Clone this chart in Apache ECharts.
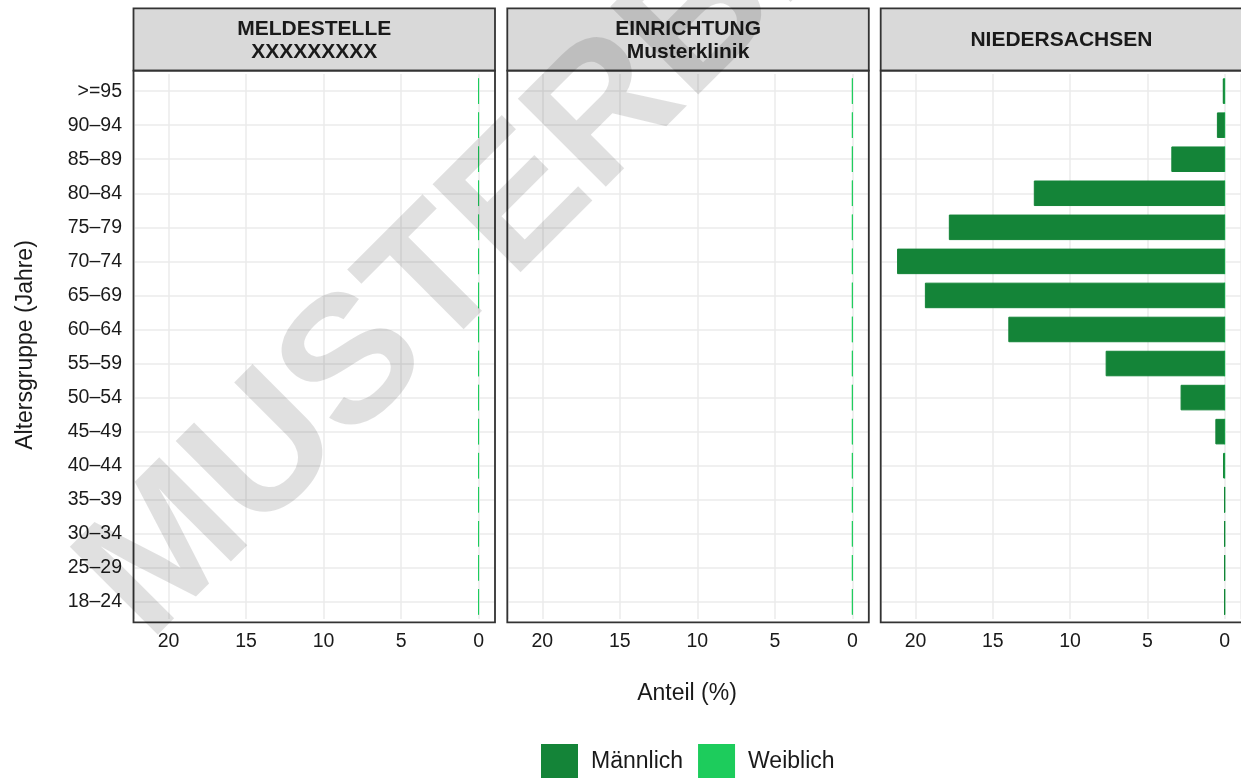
<!DOCTYPE html>
<html>
<head>
<meta charset="utf-8">
<title>Altersverteilung</title>
<script src="https://cdn.jsdelivr.net/npm/echarts@6/dist/echarts.min.js"></script>
<style>
	html, body { margin: 0; padding: 0; background: #fff; }
	#chart { width: 1241px; height: 778px; }
</style>
</head>
<body>
<div id="chart"></div>
<script>
	'use strict';

	// Altersgruppen, von unten nach oben
	var ageGroups = ['18–24', '25–29', '30–34', '35–39', '40–44', '45–49', '50–54', '55–59',
		'60–64', '65–69', '70–74', '75–79', '80–84', '85–89', '90–94', '>=95'];

	// Facetten
	var panelTitles = ['MELDESTELLE\nXXXXXXXXX', 'EINRICHTUNG\nMusterklinik', 'NIEDERSACHSEN'];

	// Anteil (%) je Altersgruppe
	var maennlichMeldestelle = [];
	var weiblichMeldestelle = [0, 0, 0, 0, 0, 0, 0, 0, 0, 0, 0, 0, 0, 0, 0, 0];
	var maennlichEinrichtung = [];
	var weiblichEinrichtung = [0, 0, 0, 0, 0, 0, 0, 0, 0, 0, 0, 0, 0, 0, 0, 0];
	var maennlichLand = [0, 0, 0, 0, 0.1, 0.6, 2.85, 7.7, 14.0, 19.4, 21.2, 17.85, 12.35, 3.45, 0.5, 0.12];
	var weiblichLand = [0, 0, 0, 0, 0, 0, 0, 0, 0, 0, 0, 0, 0, 0, 0, 0];

	var maennlich = [maennlichMeldestelle, maennlichEinrichtung, maennlichLand];
	var weiblich = [weiblichMeldestelle, weiblichEinrichtung, weiblichLand];

	// x-Achse mit 5 % Rand wie in ggplot
	var xMax = 21.2;
	var xPad = xMax * 0.05;

	// Layout
	var font = '"Liberation Sans", Arial, sans-serif';
	var textColor = '#1a1a1a';
	var gridColor = '#ebebeb';
	var colorM = '#148438';
	var colorW = '#1dcc5c';
	var panelLeft = [133.5, 507.3, 880.7];
	var panelWidth = 361.5;
	var stripTop = 8.3;
	var panelTop = 70.7;
	var panelBottom = 622.3;
	var gridTop = 74.1;
	var gridHeight = 544.8;

	var chart = echarts.init(document.getElementById('chart'), null, { renderer: 'canvas' });

	var grids = [], xAxes = [], yAxes = [], series = [], graphics = [];

	panelLeft.forEach(function (left, i) {
		grids.push({ left: left, top: gridTop, width: panelWidth, height: gridHeight });

		xAxes.push({
			type: 'value',
			gridIndex: i,
			min: -xPad,
			max: xMax + xPad,
			inverse: true,
			splitNumber: 5,
			axisLine: { show: false, onZero: false },
			axisTick: { show: false },
			axisLabel: {
				fontSize: 19.5,
				fontFamily: font,
				color: textColor,
				margin: 13,
				showMinLabel: false,
				showMaxLabel: false,
				formatter: function (v) {
					return (v >= 0 && Math.abs(v % 5) < 1e-6) ? String(v) : '';
				}
			},
			splitLine: { lineStyle: { color: gridColor, width: 1.5 } }
		});

		yAxes.push({
			type: 'category',
			gridIndex: i,
			data: ageGroups,
			axisLine: { show: false, onZero: false },
			axisTick: { show: false },
			axisLabel: {
				show: i === 0,
				fontSize: 19.5,
				fontFamily: font,
				color: textColor,
				margin: 11.5
			}
		});

		// horizontale Gitterlinien in der Mitte jeder Altersgruppe
		series.push({
			type: 'line',
			name: 'grid',
			xAxisIndex: i,
			yAxisIndex: i,
			z: 1,
			data: [],
			silent: true,
			markLine: {
				z: 1,
				silent: true,
				symbol: ['none', 'none'],
				label: { show: false },
				lineStyle: { type: 'solid', color: gridColor, width: 1.5 },
				data: ageGroups.map(function (g) { return { yAxis: g }; })
			}
		});

		series.push({
			type: 'bar',
			name: 'Weiblich',
			xAxisIndex: i,
			yAxisIndex: i,
			z: 3,
			data: weiblich[i],
			barWidth: '75%',
			barGap: '-100%',
			itemStyle: { color: colorW, borderColor: colorW, borderWidth: 1 }
		});
		series.push({
			type: 'bar',
			name: 'Männlich',
			xAxisIndex: i,
			yAxisIndex: i,
			z: 4,
			data: maennlich[i],
			barWidth: '75%',
			barGap: '-100%',
			itemStyle: { color: colorM, borderColor: colorM, borderWidth: 1 }
		});

		// Streifen mit Titel
		graphics.push({
			type: 'rect',
			z: 10,
			shape: { x: left, y: stripTop, width: panelWidth, height: panelTop - stripTop },
			style: { fill: '#d9d9d9', stroke: '#333333', lineWidth: 1.8 }
		});
		graphics.push({
			type: 'text',
			z: 11,
			x: left + panelWidth / 2,
			y: (stripTop + panelTop) / 2 + 1,
			style: {
				text: panelTitles[i],
				font: 'bold 21px ' + font,
				fill: textColor,
				lineHeight: 23.5,
				align: 'center',
				verticalAlign: 'middle',
				textAlign: 'center',
				textVerticalAlign: 'middle'
			}
		});
		// Rahmen
		graphics.push({
			type: 'rect',
			z: 10,
			shape: { x: left, y: panelTop, width: panelWidth, height: panelBottom - panelTop },
			style: { fill: 'none', stroke: '#333333', lineWidth: 1.8 }
		});
	});

	// Achsentitel
	graphics.push({
		type: 'text',
		x: 687,
		y: 694,
		style: {
			text: 'Anteil (%)', font: '23px ' + font, fill: textColor,
			align: 'center', verticalAlign: 'middle', textAlign: 'center', textVerticalAlign: 'middle'
		}
	});
	graphics.push({
		type: 'text',
		x: 26,
		y: 345,
		rotation: Math.PI / 2,
		style: {
			text: 'Altersgruppe (Jahre)', font: '23px ' + font, fill: textColor,
			align: 'center', verticalAlign: 'middle', textAlign: 'center', textVerticalAlign: 'middle'
		}
	});

	// Wasserzeichen
	graphics.push({
		type: 'text',
		z: 100,
		x: 114,
		y: 608,
		rotation: 45 * Math.PI / 180,
		silent: true,
		style: {
			text: 'MUSTERBERICHT', font: 'bold 181px ' + font, fill: 'rgba(0,0,0,0.12)',
			align: 'left', verticalAlign: 'middle', textAlign: 'left', textVerticalAlign: 'middle'
		}
	});

	chart.setOption({
		animation: false,
		grid: grids,
		xAxis: xAxes,
		yAxis: yAxes,
		series: series,
		legend: {
			data: ['Männlich', 'Weiblich'],
			left: 541,
			top: 744,
			padding: 0,
			icon: 'rect',
			itemWidth: 35,
			itemHeight: 34,
			itemGap: 15,
			selectedMode: false,
			textStyle: { fontSize: 23, fontFamily: font, color: textColor, padding: [0, 0, 0, 9] }
		},
		graphic: graphics
	});
</script>
</body>
</html>
